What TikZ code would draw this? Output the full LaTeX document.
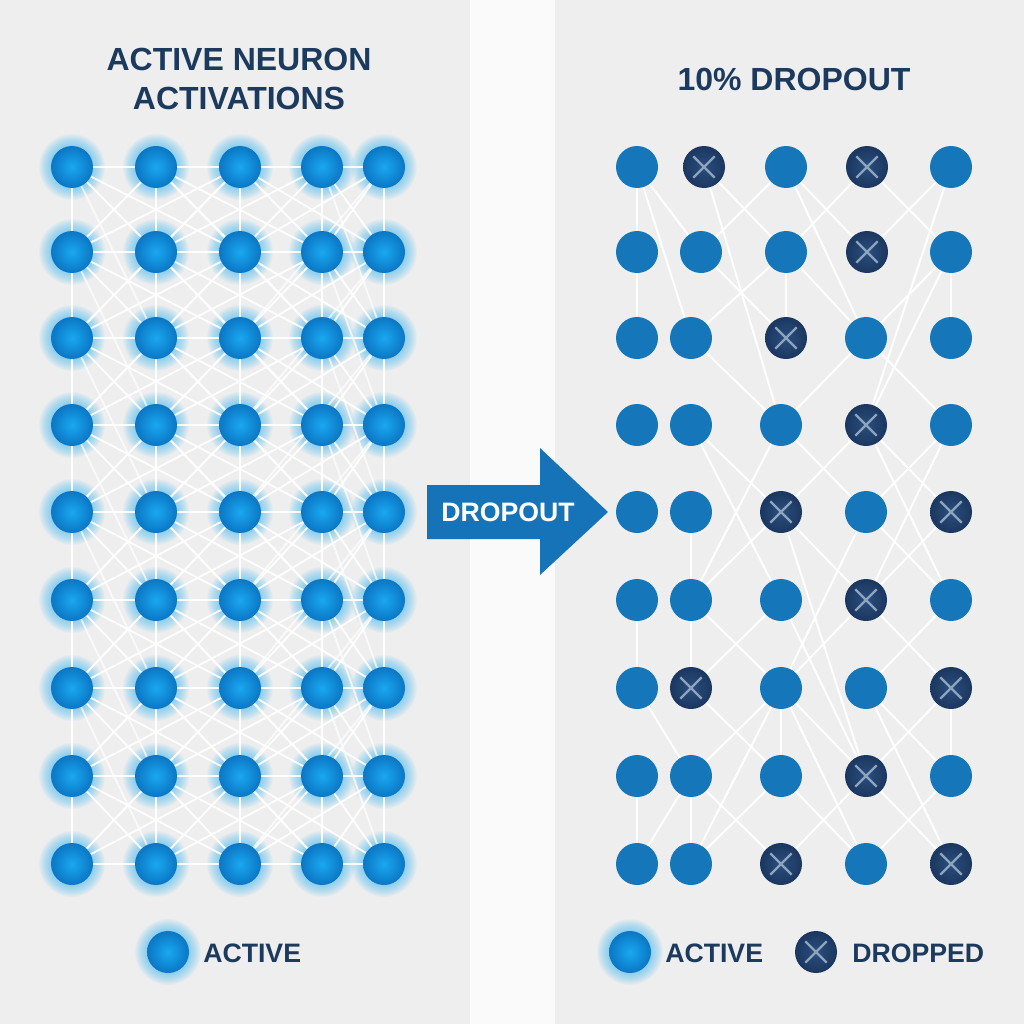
\documentclass[tikz,border=0pt]{standalone}
\usepackage{fontspec}
\setmainfont{Liberation Sans}
\pgfdeclarelayer{bg}
\pgfdeclarelayer{edges}
\pgfsetlayers{bg,edges,main}
\definecolor{navy}{HTML}{1B3A5E}
\definecolor{panel}{HTML}{EEEEEE}
\definecolor{gap}{HTML}{FAFAFA}
\definecolor{glowc}{HTML}{38B8F5}
\definecolor{lin}{HTML}{1AA8F0}
\definecolor{lout}{HTML}{0B76C4}
\definecolor{ract}{HTML}{1577B9}
\definecolor{drop1}{HTML}{2A4E7C}
\definecolor{drop2}{HTML}{1B3760}
\definecolor{crossc}{HTML}{8DA4BF}
\definecolor{arrowc}{HTML}{1673B8}
\tikzset{
  glownode/.style={circle, minimum size=31.5pt, inner sep=0pt, inner color=lin, outer color=lout},
  actnode/.style={circle, minimum size=31.5pt, inner sep=0pt, fill=ract},
  dropnode/.style={circle, minimum size=31.5pt, inner sep=0pt, inner color=drop1, outer color=drop2,
    path picture={\draw[crossc, line width=1.7pt]
      ([shift={(-8pt,-8pt)}]path picture bounding box.center) -- ([shift={(8pt,8pt)}]path picture bounding box.center)
      ([shift={(-8pt,8pt)}]path picture bounding box.center) -- ([shift={(8pt,-8pt)}]path picture bounding box.center);}},
  ledge/.style={white, line width=1.4pt, opacity=0.95},
  redge/.style={white, line width=1.5pt},
  titletext/.style={font=\fontsize{24}{28}\selectfont\bfseries, text=navy, inner sep=0pt, anchor=base},
  legtext/.style={font=\fontsize{20}{24}\selectfont\bfseries, text=navy, inner sep=0pt, anchor=base west},
}
\newcommand{\myglow}[1]{%
  \foreach \rr in {33,32,...,22}{\fill[glowc, opacity=0.055] (#1) circle (\rr);}}
\begin{document}
\begin{tikzpicture}[x=0.75pt,y=-0.75pt]
\useasboundingbox (0,0) rectangle (1024,1024);
\begin{pgfonlayer}{bg}
  \fill[gap] (0,0) rectangle (1024,1024);
  \fill[panel] (0,0) rectangle (470,1024);
  \fill[panel] (555,0) rectangle (1024,1024);
\end{pgfonlayer}

% titles
\node[titletext] (t1) at (239,71) {ACTIVE NEURON};
\node[titletext] (t2) at (239,109) {ACTIVATIONS};
\node[titletext] (t3) at (794,90) {10\% DROPOUT};

% left grid
\foreach \r/\y in {1/167,2/252,3/338,4/425,5/512,6/600,7/688,8/776,9/864}{
  \foreach \c/\x in {1/72,2/156,3/240,4/322,5/384}{
    \begin{pgfonlayer}{bg}\myglow{\x,\y}\end{pgfonlayer}
    \node[glownode] (L\r-\c) at (\x,\y) {};
  }
}

% right grid
\foreach \r/\c/\x/\y/\t in {
 1/1/637/167/actnode, 1/2/704/167/dropnode, 1/3/786/167/actnode, 1/4/867/167/dropnode, 1/5/951/167/actnode,
 2/1/637/252/actnode, 2/2/701/252/actnode, 2/3/786/252/actnode, 2/4/867/252/dropnode, 2/5/951/252/actnode,
 3/1/637/338/actnode, 3/2/691/338/actnode, 3/3/786/338/dropnode, 3/4/866/338/actnode, 3/5/951/338/actnode,
 4/1/637/425/actnode, 4/2/691/425/actnode, 4/3/781/425/actnode, 4/4/866/425/dropnode, 4/5/951/425/actnode,
 5/1/637/512/actnode, 5/2/691/512/actnode, 5/3/781/512/dropnode, 5/4/866/512/actnode, 5/5/951/512/dropnode,
 6/1/637/600/actnode, 6/2/691/600/actnode, 6/3/781/600/actnode, 6/4/866/600/dropnode, 6/5/951/600/actnode,
 7/1/637/688/actnode, 7/2/691/688/dropnode, 7/3/781/688/actnode, 7/4/866/688/actnode, 7/5/951/688/dropnode,
 8/1/637/776/actnode, 8/2/691/776/actnode, 8/3/781/776/actnode, 8/4/866/776/dropnode, 8/5/951/776/actnode,
 9/1/637/864/actnode, 9/2/691/864/actnode, 9/3/781/864/dropnode, 9/4/866/864/actnode, 9/5/951/864/dropnode}{
  \node[\t] (R\r-\c) at (\x,\y) {};
}

% edges
\begin{pgfonlayer}{edges}
  \foreach \r in {1,...,9}{
    \foreach \i/\j in {1/2,2/3,3/4,4/5}{\draw[ledge] (L\r-\i) -- (L\r-\j);}
  }
  \foreach \r in {1,...,8}{
    \pgfmathtruncatemacro{\s}{\r+1}
    \foreach \i in {1,...,5}{
      \foreach \j in {1,...,5}{
        \pgfmathtruncatemacro{\d}{abs(\i-\j)}
        \ifnum\d<3 \draw[ledge] (L\r-\i) -- (L\s-\j);\fi
      }
    }
  }
  \foreach \r in {1,...,7}{
    \pgfmathtruncatemacro{\s}{\r+2}
    \foreach \i/\j in {1/2,2/4,3/1,4/5,5/3}{\draw[ledge, opacity=0.7] (L\r-\i) -- (L\s-\j);}
  }
  \foreach \a/\b in {1-1/2-1,1-1/2-2,1-1/3-2,1-2/2-3,1-2/4-3,1-3/2-2,1-3/2-4,1-3/3-4,1-4/2-3,1-4/2-5,1-5/2-4,1-5/4-4,
    2-1/3-1,2-2/3-3,2-3/3-2,2-3/3-3,2-3/3-4,2-5/3-4,2-5/3-5,2-5/4-4,
    3-2/4-3,3-4/4-3,3-4/4-5,
    4-2/5-3,4-2/6-3,4-3/6-2,4-3/5-4,4-4/5-3,4-4/5-5,4-4/6-5,4-5/5-4,4-5/6-4,
    5-2/6-2,5-3/6-2,5-3/6-4,5-3/8-4,5-4/7-3,5-4/6-5,5-5/6-4,
    6-1/7-1,6-2/7-2,6-2/7-3,6-3/7-2,6-3/8-4,6-4/7-3,6-4/7-5,6-5/7-4,
    7-1/8-2,7-2/8-3,7-3/8-2,7-3/9-2,7-3/8-3,7-3/8-4,7-3/9-4,7-4/8-5,7-4/9-5,7-5/8-4,7-5/8-5,
    8-1/9-1,8-2/9-1,8-2/9-2,8-2/9-3,8-3/9-2,8-4/9-3,8-3/9-4,8-4/9-5,8-5/9-4}{
    \draw[redge] (R\a) -- (R\b);
  }
\end{pgfonlayer}

% arrow
\fill[arrowc] (427,485) -- (540,485) -- (540,448) -- (608,512) -- (540,575) -- (540,539) -- (427,539) -- cycle;
\node[font=\fontsize{20}{24}\selectfont\bfseries, text=white, inner sep=0pt, anchor=base] (arrtxt) at (508,521) {DROPOUT};

% legends
\begin{pgfonlayer}{bg}\myglow{168,952}\myglow{630,952}\end{pgfonlayer}
\node[glownode] (lg1) at (168,952) {};
\node[legtext] (lg1t) at (203,962) {ACTIVE};
\node[glownode] (lg2) at (630,952) {};
\node[legtext] (lg2t) at (665,962) {ACTIVE};
\node[dropnode] (lg3) at (816,952) {};
\node[legtext] (lg3t) at (852,962) {DROPPED};
\end{tikzpicture}
\end{document}
